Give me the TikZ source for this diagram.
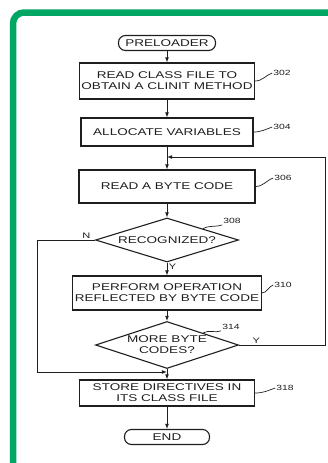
\documentclass[tikz,border=0pt]{standalone}
\usepackage{fontspec}
\newfontfamily\patentfont[FakeStretch=1.38]{Liberation Sans}
\usepackage{xcolor}
\definecolor{framegreen}{RGB}{0,166,99}
\definecolor{ink}{RGB}{30,30,30}
\usetikzlibrary{shapes.geometric, arrows.meta, positioning}

\begin{document}
\begin{tikzpicture}[x=1pt, y=-1pt,
	proc/.style={rectangle, draw=ink, line width=1.1pt, align=center, inner sep=2pt, text=ink,
	             font=\patentfont\fontsize{9.8}{10.8}\selectfont},
	term/.style={proc, rounded corners=7pt, minimum height=15pt},
	decision/.style={diamond, draw=ink, line width=1.1pt, align=center, inner sep=0pt, text=ink,
	                 aspect=3.2, minimum width=143pt, font=\patentfont\fontsize{9.8}{10.8}\selectfont},
	arr/.style={-{Latex[length=1.8mm, width=1.4mm]}, draw=ink, line width=0.9pt},
	lead/.style={draw=ink, line width=0.7pt},
	refno/.style={font=\patentfont\fontsize{7.5}{8}\selectfont, text=ink, inner sep=1pt},
	yn/.style={font=\patentfont\fontsize{8}{9}\selectfont, text=ink, inner sep=1.5pt}
	]
	\useasboundingbox (0,0) rectangle (328,463);
	\draw[framegreen, line width=6.5pt, rounded corners=11pt] (13,463) -- (13,12.5) -- (328,12.5);

	\node[term, minimum width=97pt] (pre) at (167,43) {PRELOADER};
	\node[proc, minimum width=172pt, minimum height=36pt] (read) at (167,81) {READ CLASS FILE TO\\OBTAIN A CLINIT METHOD};
	\node[proc, minimum width=172pt, minimum height=28pt] (alloc) at (167,132) {ALLOCATE VARIABLES};
	\node[proc, minimum width=176pt, minimum height=33pt] (readbc) at (167,186.5) {READ A BYTE CODE};
	\node[decision, minimum height=44pt] (recog) at (167,240) {RECOGNIZED?};
	\node[proc, minimum width=174pt, minimum height=34pt] (perform) at (167,293) {PERFORM OPERATION\\REFLECTED BY BYTE CODE};
	\node[decision, aspect=3, minimum height=47pt] (more) at (167,345) {MORE BYTE\\CODES?};
	\node[proc, minimum width=175pt, minimum height=26pt] (store) at (167,393) {STORE DIRECTIVES IN\\ITS CLASS FILE};
	\node[term, minimum width=85pt] (end) at (167,437) {END};

	% reference numerals
	\node[refno] (n302) at (282,73) {302};
	\node[refno] (n304) at (282,127) {304};
	\node[refno] (n306) at (283,178) {306};
	\node[refno] (n308) at (232,221) {308};
	\node[refno] (n310) at (283,285) {310};
	\node[refno] (n314) at (231,327) {314};
	\node[refno] (n318) at (285,388) {318};

	\draw[lead] (read.east) to[out=0, in=200] (n302.west);
	\draw[lead] (alloc.east) to[out=0, in=200] (n304.west);
	\draw[lead] (readbc.east) to[out=0, in=200] (n306.west);
	\draw[lead] (recog.north east) to[out=30, in=200] (n308.south west);
	\draw[lead] (perform.east) to[out=0, in=200] (n310.west);
	\draw[lead] (more.north east) to[out=30, in=200] (n314.south west);
	\draw[lead] (store.east) to[out=0, in=200] (n318.west);

	\coordinate (j306) at (167,157);
	\coordinate (j318) at (167,372);
	\coordinate (lx) at (37,0);
	\coordinate (rx) at (325,0);

	\draw[arr] (pre) -- (read);
	\draw[arr] (read) -- (alloc);
	\draw[arr] (alloc) -- (readbc);
	\draw[arr] (readbc) -- (recog);
	\draw[arr] (recog) -- node[yn, right, pos=0.35] {Y} (perform);
	\draw[arr] (perform) -- (more);
	\draw[arr] (more) -- (store);
	\draw[arr] (store) -- (end);

	\draw[arr] (recog.west) -- node[yn, above, pos=0.15] {N} (recog.west -| lx) |- (j318);
	\draw[arr] (more.east) -- node[yn, above, pos=0.2] {Y} (more.east -| rx) |- (j306);
\end{tikzpicture}
\end{document}
